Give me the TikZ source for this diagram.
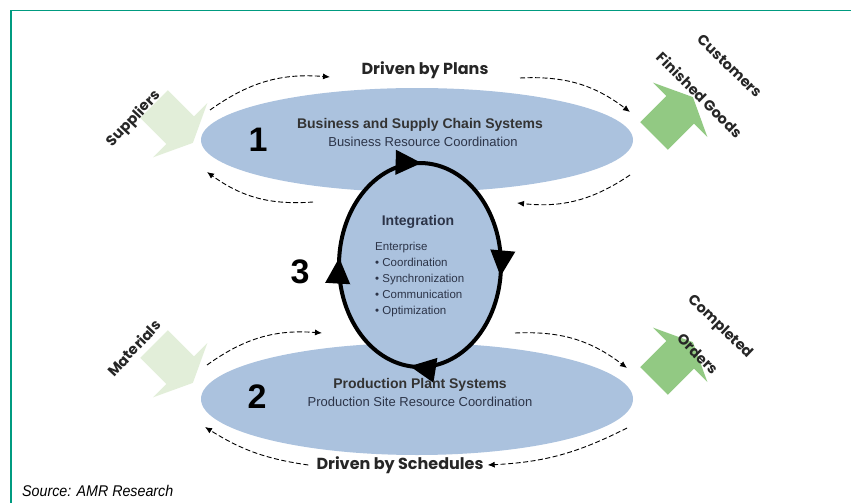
\documentclass[tikz,border=0pt]{standalone}
\usepackage{fontspec}
\setmainfont{Liberation Sans}
\newfontfamily\geofont{Poppins}
\newfontfamily\srcfont[FakeStretch=0.92]{Liberation Sans}
\usetikzlibrary{arrows.meta,decorations.markings}

\definecolor{panelblue}{RGB}{171,194,222}
\definecolor{framegreen}{RGB}{0,155,128}
\definecolor{palegreen}{RGB}{226,238,217}
\definecolor{leafgreen}{RGB}{146,201,131}
\definecolor{inktext}{RGB}{44,52,72}

\tikzset{
  flowtag/.style={font=\geofont\bfseries\fontsize{16}{18}\selectfont, text=black!85, inner sep=0pt},
  sidetag/.style={font=\geofont\bfseries\fontsize{14.5}{17}\selectfont, text=black!85, inner sep=0pt},
  bignum/.style={font=\bfseries\fontsize{34}{36}\selectfont, inner sep=0pt},
  systitle/.style={font=\bfseries\fontsize{14}{16}\selectfont, text=black!80, inner sep=0pt},
  syssub/.style={font=\fontsize{13}{15}\selectfont, text=inktext, inner sep=0pt},
  dasharrow/.style={line width=0.9pt, dash pattern=on 5pt off 2.5pt, -{Latex[length=7pt,width=6pt]}},
  loopline/.style={line width=4pt}
}

% block arrow pointing along +x, back edge at the origin
\newcommand{\blockarrow}[3]{%
  \fill[#1, shift={#2}, rotate=#3] (0,-19.5) -- (37,-19.5) -- (37,-38.5) -- (55,0)
    -- (37,38.5) -- (37,19.5) -- (0,19.5) -- cycle;}

\begin{document}
\begin{tikzpicture}[x=1pt, y=-1pt]
\useasboundingbox (0,0) rectangle (851,503);

% Frame line along the top and left edge
\draw[framegreen, line width=1.4pt] (11,503) -- (11,10.5) -- (851,10.5);

% Two system ellipses
\fill[panelblue] (417,140) ellipse [x radius=216, y radius=52];
\fill[panelblue] (417,399) ellipse [x radius=216, y radius=56];

% Integration loop with clockwise arrowheads
\fill[panelblue] (420,265) ellipse [x radius=81, y radius=102];
\draw[loopline, postaction={decorate}, decoration={markings,
    mark=at position 0.105 with {\arrow{Triangle[length=26pt,width=24pt]}},
    mark=at position 0.372 with {\arrow{Triangle[length=26pt,width=24pt]}},
    mark=at position 0.62 with {\arrow{Triangle[length=26pt,width=24pt]}},
    mark=at position 0.865 with {\arrow{Triangle[length=26pt,width=24pt]}}}]
  ([shift={(420,265)}]-130:81 and 102)
  arc[start angle=-130, end angle=230, x radius=81, y radius=102];

% Inputs and outputs
\blockarrow{palegreen}{(154,104)}{-45}
\blockarrow{palegreen}{(154,344)}{-45}
\blockarrow{leafgreen}{(654,136)}{45}
\blockarrow{leafgreen}{(654,381)}{45}

\node[sidetag, rotate=47] (suppliers) at (134,119) {Suppliers};
\node[sidetag, rotate=47] (materials) at (134,348) {Materials};
\node[sidetag, rotate=-44] (customers) at (730,66) {Customers};
\node[sidetag, rotate=-45] (goods) at (700,95) {Finished Goods};
\node[sidetag, rotate=-44] (completed) at (720,327) {Completed};
\node[sidetag, rotate=-45] (orders) at (698,354) {Orders};

% Numbers
\node[bignum] (one) at (258,140) {1};
\node[bignum] (two) at (257,397) {2};
\node[bignum] (three) at (300,272) {3};

% System labels
\node[systitle] (bizsys) at (420,125) {Business and Supply Chain Systems};
\node[syssub] (bizsub) at (423,142) {Business Resource Coordination};
\node[systitle] (prodsys) at (420,385) {Production Plant Systems};
\node[syssub] (prodsub) at (420,402) {Production Site Resource Coordination};

% Integration text
\node[font=\bfseries\fontsize{14}{16}\selectfont, text=inktext, inner sep=0pt] (integ) at (418,222) {Integration};
\node[anchor=north west, align=left, font=\fontsize{11.5}{16}\selectfont, text=inktext, inner sep=0pt] (enterprise) at (375,242)
  {Enterprise\\• Coordination\\• Synchronization\\• Communication\\• Optimization};

% Driven by ... labels
\node[flowtag] (plans) at (425,70) {Driven by Plans};
\node[flowtag] (schedules) at (400,465) {Driven by Schedules};

% Dashed flow arcs around the ellipses
\coordinate (pl1) at (210,110);
\coordinate (pl2) at (330,77);
\coordinate (pr1) at (520,78);
\coordinate (pr2) at (630,112);
\coordinate (pm1) at (630,175);
\coordinate (pm2) at (517,203);
\coordinate (lm1) at (313,202);
\coordinate (lm2) at (207,172);
\coordinate (sl1) at (207,365);
\coordinate (sl2) at (322,333);
\coordinate (sr1) at (515,333);
\coordinate (sr2) at (627,368);
\coordinate (sb1) at (627,428);
\coordinate (sb2) at (205,427);

\draw[dasharrow] (pl1) to[bend left=20] (pl2);
\draw[dasharrow] (pr1) to[bend left=20] (pr2);
\draw[dasharrow] (pm1) to[bend left=20] (pm2);
\draw[dasharrow] (lm1) to[bend left=20] (lm2);
\draw[dasharrow] (sl1) to[bend left=20] (sl2);
\draw[dasharrow] (sr1) to[bend left=20] (sr2);
\draw[dasharrow] (sb1) to[bend left=12] ([xshift=4pt]schedules.east);
\draw[dasharrow] ([xshift=-8pt]schedules.west) to[bend left=12] (sb2);

% Source line
\node[anchor=base west, font=\srcfont\itshape\fontsize{15.5}{18}\selectfont, inner sep=0pt] (source) at (22,496) {Source: AMR Research};
\end{tikzpicture}
\end{document}
